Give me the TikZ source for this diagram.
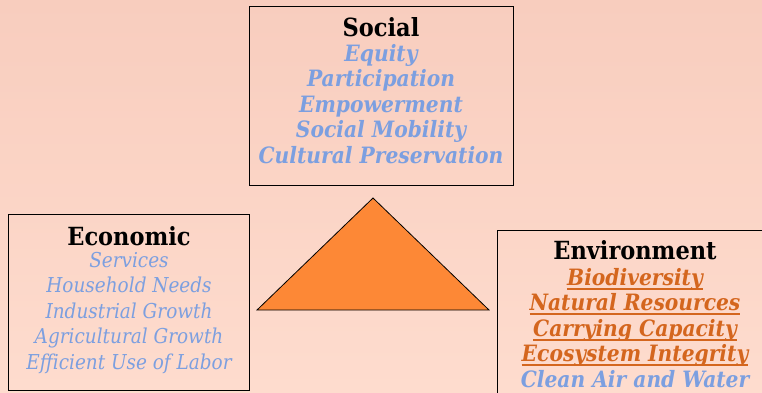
\documentclass[tikz,border=0pt]{standalone}
\usepackage{fontspec}
\setmainfont{DejaVu Serif Condensed}
% heavier, lower underline for the highlighted items
\newcommand\thickul[1]{\leavevmode\setbox0=\hbox{#1}\rlap{\vrule width\wd0 height -2.2pt depth 4.2pt}\box0}
\begin{document}
\begin{tikzpicture}[x=1pt,y=-1pt,
  panel/.style={draw=black,line width=1pt},
  listtext/.style={align=center,inner sep=0pt,anchor=north},
  heading/.style={font=\fontsize{25}{25.5}\selectfont\bfseries,text=black,inner sep=0pt},
  bolditems/.style={listtext,font=\fontsize{22.5}{25.5}\selectfont\bfseries\itshape},
  plainitems/.style={listtext,font=\fontsize{20.5}{25.5}\selectfont\itshape},
]
\definecolor{itemblue}{HTML}{7C9FE0}
\definecolor{itemorange}{HTML}{D4661E}
\definecolor{bgtop}{HTML}{F8CDBE}
\definecolor{bgbottom}{HTML}{FEDCCE}
\definecolor{wedge}{HTML}{FD8836}
\useasboundingbox (0,0) rectangle (762,392);
\clip (0,0) rectangle (762,392);
\shade[top color=bgtop,bottom color=bgbottom] (0,0) rectangle (762,392);

% three pillar panels
\draw[panel] (249,6) rectangle (513,185);
\draw[panel] (8,214) rectangle (249,390);
\draw[panel] (497,230) rectangle (775,400);

% centre triangle
\draw[fill=wedge,draw=black,line width=0.8pt] (373,198) -- (489,310) -- (257,310) -- cycle;

% headings
\node[heading] (soc) at (381,27) {Social};
\node[heading] (eco) at (129,236) {Economic};
\node[heading] (env) at (635,250) {Environment};

% item lists
\node[bolditems,text=itemblue] (socl) at (381,44)
  {Equity\\Participation\\Empowerment\\Social Mobility\\Cultural Preservation};
\node[plainitems,text=itemblue] (ecol) at (129,252)
  {Services\\Household Needs\\Industrial Growth\\Agricultural Growth\\Efficient Use of Labor};
\node[bolditems,text=itemorange] (envl) at (635,268)
  {\thickul{Biodiversity}\\\thickul{Natural Resources}\\\thickul{Carrying Capacity}\\\thickul{Ecosystem Integrity}\\\textcolor{itemblue}{Clean Air and Water}};
\end{tikzpicture}
\end{document}
